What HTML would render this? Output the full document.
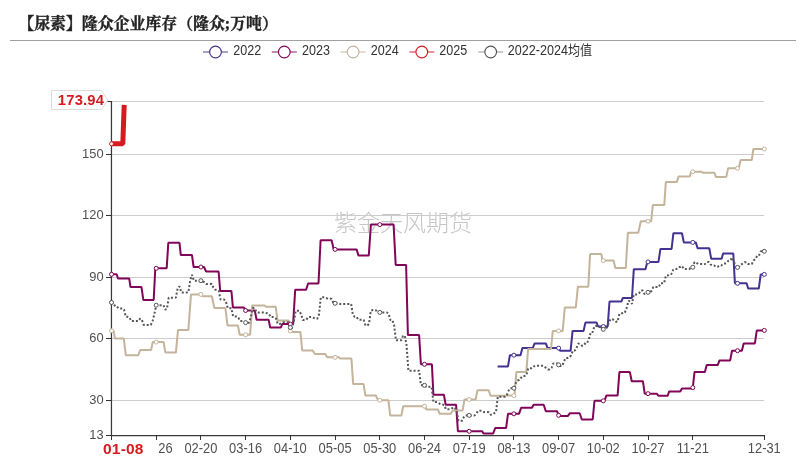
<!DOCTYPE html>
<html lang="zh"><head><meta charset="utf-8"><title>【尿素】隆众企业库存</title>
<style>
html,body{margin:0;padding:0;background:#fff;}
body{width:806px;height:460px;position:relative;overflow:hidden;font-family:"Liberation Sans","Noto Sans CJK SC",sans-serif;}
.title{position:absolute;left:18.3px;top:12.3px;-webkit-text-stroke:0.35px #222;font-family:"Liberation Serif","Noto Serif CJK SC",serif;font-weight:bold;font-size:15.9px;line-height:24px;color:#222;white-space:nowrap;}
</style></head><body>
<div class="title">【尿素】隆众企业库存（隆众;万吨）</div>
<svg width="806" height="460" viewBox="0 0 806 460" style="position:absolute;left:0;top:0"><text x="403" y="231" text-anchor="middle" font-family="'Liberation Sans','Noto Sans CJK SC',sans-serif" font-size="23" font-weight="300" fill="#c6c6c6">紫金天风期货</text><line x1="112" y1="101.5" x2="764" y2="101.5" stroke="#cccccc" stroke-width="1"/><line x1="112" y1="154.5" x2="764" y2="154.5" stroke="#cccccc" stroke-width="1"/><line x1="112" y1="215.5" x2="764" y2="215.5" stroke="#cccccc" stroke-width="1"/><line x1="112" y1="277.5" x2="764" y2="277.5" stroke="#cccccc" stroke-width="1"/><line x1="112" y1="338.5" x2="764" y2="338.5" stroke="#cccccc" stroke-width="1"/><line x1="112" y1="400.5" x2="764" y2="400.5" stroke="#cccccc" stroke-width="1"/><line x1="111.45" y1="101" x2="111.45" y2="436.2" stroke="#383838" stroke-width="1.25"/><line x1="111" y1="435.6" x2="764.8" y2="435.6" stroke="#383838" stroke-width="1.25"/><line x1="106" y1="101.5" x2="112" y2="101.5" stroke="#333" stroke-width="1"/><line x1="106" y1="154.5" x2="112" y2="154.5" stroke="#333" stroke-width="1"/><line x1="106" y1="215.5" x2="112" y2="215.5" stroke="#333" stroke-width="1"/><line x1="106" y1="277.5" x2="112" y2="277.5" stroke="#333" stroke-width="1"/><line x1="106" y1="338.5" x2="112" y2="338.5" stroke="#333" stroke-width="1"/><line x1="106" y1="400.5" x2="112" y2="400.5" stroke="#333" stroke-width="1"/><line x1="106" y1="435.5" x2="112" y2="435.5" stroke="#333" stroke-width="1"/><line x1="111.5" y1="435" x2="111.5" y2="440" stroke="#333" stroke-width="1"/><line x1="156.5" y1="435" x2="156.5" y2="440" stroke="#333" stroke-width="1"/><line x1="200.5" y1="435" x2="200.5" y2="440" stroke="#333" stroke-width="1"/><line x1="245.5" y1="435" x2="245.5" y2="440" stroke="#333" stroke-width="1"/><line x1="290.5" y1="435" x2="290.5" y2="440" stroke="#333" stroke-width="1"/><line x1="335.5" y1="435" x2="335.5" y2="440" stroke="#333" stroke-width="1"/><line x1="379.5" y1="435" x2="379.5" y2="440" stroke="#333" stroke-width="1"/><line x1="424.5" y1="435" x2="424.5" y2="440" stroke="#333" stroke-width="1"/><line x1="469.5" y1="435" x2="469.5" y2="440" stroke="#333" stroke-width="1"/><line x1="513.5" y1="435" x2="513.5" y2="440" stroke="#333" stroke-width="1"/><line x1="558.5" y1="435" x2="558.5" y2="440" stroke="#333" stroke-width="1"/><line x1="603.5" y1="435" x2="603.5" y2="440" stroke="#333" stroke-width="1"/><line x1="648.5" y1="435" x2="648.5" y2="440" stroke="#333" stroke-width="1"/><line x1="692.5" y1="435" x2="692.5" y2="440" stroke="#333" stroke-width="1"/><line x1="764.5" y1="435" x2="764.5" y2="440" stroke="#333" stroke-width="1"/><text transform="translate(103.6 158.3) scale(1 1.04)" text-anchor="end" font-family="'Liberation Sans','Noto Sans CJK SC',sans-serif" font-size="12.9" fill="#505050">150</text><text transform="translate(103.6 219.3) scale(1 1.04)" text-anchor="end" font-family="'Liberation Sans','Noto Sans CJK SC',sans-serif" font-size="12.9" fill="#505050">120</text><text transform="translate(103.6 281.3) scale(1 1.04)" text-anchor="end" font-family="'Liberation Sans','Noto Sans CJK SC',sans-serif" font-size="12.9" fill="#505050">90</text><text transform="translate(103.6 342.3) scale(1 1.04)" text-anchor="end" font-family="'Liberation Sans','Noto Sans CJK SC',sans-serif" font-size="12.9" fill="#505050">60</text><text transform="translate(103.6 404.3) scale(1 1.04)" text-anchor="end" font-family="'Liberation Sans','Noto Sans CJK SC',sans-serif" font-size="12.9" fill="#505050">30</text><text transform="translate(103.6 439.3) scale(1 1.04)" text-anchor="end" font-family="'Liberation Sans','Noto Sans CJK SC',sans-serif" font-size="12.9" fill="#505050">13</text><text transform="translate(172.6 452.6) scale(1 1.09)" text-anchor="end" font-family="'Liberation Sans','Noto Sans CJK SC',sans-serif" font-size="12.9" fill="#505050">26</text><text transform="translate(200.9 452.6) scale(1 1.09)" text-anchor="middle" font-family="'Liberation Sans','Noto Sans CJK SC',sans-serif" font-size="12.9" fill="#505050">02-20</text><text transform="translate(245.6 452.6) scale(1 1.09)" text-anchor="middle" font-family="'Liberation Sans','Noto Sans CJK SC',sans-serif" font-size="12.9" fill="#505050">03-16</text><text transform="translate(290.3 452.6) scale(1 1.09)" text-anchor="middle" font-family="'Liberation Sans','Noto Sans CJK SC',sans-serif" font-size="12.9" fill="#505050">04-10</text><text transform="translate(335.1 452.6) scale(1 1.09)" text-anchor="middle" font-family="'Liberation Sans','Noto Sans CJK SC',sans-serif" font-size="12.9" fill="#505050">05-05</text><text transform="translate(379.8 452.6) scale(1 1.09)" text-anchor="middle" font-family="'Liberation Sans','Noto Sans CJK SC',sans-serif" font-size="12.9" fill="#505050">05-30</text><text transform="translate(424.5 452.6) scale(1 1.09)" text-anchor="middle" font-family="'Liberation Sans','Noto Sans CJK SC',sans-serif" font-size="12.9" fill="#505050">06-24</text><text transform="translate(469.2 452.6) scale(1 1.09)" text-anchor="middle" font-family="'Liberation Sans','Noto Sans CJK SC',sans-serif" font-size="12.9" fill="#505050">07-19</text><text transform="translate(513.9 452.6) scale(1 1.09)" text-anchor="middle" font-family="'Liberation Sans','Noto Sans CJK SC',sans-serif" font-size="12.9" fill="#505050">08-13</text><text transform="translate(558.6 452.6) scale(1 1.09)" text-anchor="middle" font-family="'Liberation Sans','Noto Sans CJK SC',sans-serif" font-size="12.9" fill="#505050">09-07</text><text transform="translate(603.3 452.6) scale(1 1.09)" text-anchor="middle" font-family="'Liberation Sans','Noto Sans CJK SC',sans-serif" font-size="12.9" fill="#505050">10-02</text><text transform="translate(648.0 452.6) scale(1 1.09)" text-anchor="middle" font-family="'Liberation Sans','Noto Sans CJK SC',sans-serif" font-size="12.9" fill="#505050">10-27</text><text transform="translate(692.8 452.6) scale(1 1.09)" text-anchor="middle" font-family="'Liberation Sans','Noto Sans CJK SC',sans-serif" font-size="12.9" fill="#505050">11-21</text><text transform="translate(764.3 452.6) scale(1 1.09)" text-anchor="middle" font-family="'Liberation Sans','Noto Sans CJK SC',sans-serif" font-size="12.9" fill="#505050">12-31</text><text x="123.3" y="454.3" text-anchor="middle" font-family="'Liberation Sans','Noto Sans CJK SC',sans-serif" font-size="15.5" letter-spacing="0.15" font-weight="bold" fill="#d71921">01-08</text><path d="M497.6 366.4L508.0 366.4L509.9 355.2L520.5 355.2L522.4 348.1L532.8 348.1L534.6 343.4L545.8 343.4L547.6 348.1L558.8 348.1L560.1 350.7L570.6 350.7L572.6 330.9L583.6 330.9L585.4 322.6L596.6 322.6L598.1 326.5L607.7 326.5L609.5 301.5L621.5 301.5L622.8 297.9L632.0 297.9L633.8 269.2L645.5 269.2L647.3 261.9L658.5 261.9L660.4 248.9L671.6 248.9L673.4 233.2L682.0 233.2L683.8 242.4L695.8 242.4L697.6 248.3L709.3 248.3L711.2 258.8L721.6 258.8L723.1 253.6L733.3 253.6L734.9 283.3L746.6 283.3L748.2 288.5L758.8 288.5L760.7 274.4L764.1 274.4" fill="none" stroke="#45318f" stroke-width="2" stroke-linejoin="bevel"/><path d="M111.5 274.3L116.7 274.3L118.0 278.5L129.2 278.5L130.5 287.1L141.5 287.1L143.3 299.9L153.7 299.9L155.3 268.3L166.7 268.3L168.3 242.8L179.5 242.8L180.8 255.1L192.0 255.1L193.6 267.0L204.0 267.0L206.1 271.5L218.6 271.5L220.2 291.0L231.4 291.0L232.9 307.4L243.9 307.4L245.7 310.6L254.8 310.6L256.6 319.7L268.6 319.7L270.2 327.5L280.9 327.5L282.2 324.1L293.1 324.1L295.2 289.7L306.1 289.7L308.1 283.5L318.5 283.5L320.6 240.3L331.6 240.3L333.7 249.4L356.6 249.4L358.4 255.4L368.8 255.4L370.9 224.6L393.6 224.6L395.7 265.0L406.1 265.0L407.9 335.1L419.1 335.1L420.9 364.3L431.9 364.3L433.4 394.8L443.9 394.8L445.7 404.7L456.1 404.7L457.9 431.3L482.2 431.3L483.5 433.6L493.1 433.6L495.2 428.1L506.1 428.1L508.0 413.8L519.0 413.8L521.1 407.8L532.0 407.8L533.6 404.7L543.7 404.7L545.8 411.2L557.0 411.2L558.8 415.9L568.0 415.9L569.8 413.3L579.7 413.3L581.8 419.5L592.7 419.5L594.5 400.8L604.4 400.8L606.4 395.6L617.6 395.6L619.4 372.1L629.9 372.1L631.7 381.2L642.9 381.2L644.7 393.7L656.7 393.7L658.5 395.8L667.7 395.8L669.2 391.4L680.2 391.4L682.0 388.5L692.7 388.5L694.5 372.1L704.9 372.1L706.7 365.1L717.7 365.1L719.5 360.4L730.2 360.4L732.0 350.7L741.9 350.7L743.7 343.4L754.9 343.4L756.8 330.4L764.1 330.4" fill="none" stroke="#80065a" stroke-width="2" stroke-linejoin="bevel"/><path d="M111.5 330.7L113.6 330.7L114.9 338.5L123.8 338.5L125.8 355.2L138.3 355.2L140.2 350.0L151.1 350.0L152.7 342.1L163.6 342.1L165.4 352.6L175.9 352.6L178.0 329.9L188.4 329.9L191.0 294.4L201.4 294.4L202.7 296.2L211.8 296.2L214.4 308.0L225.4 308.0L227.5 325.4L237.9 325.4L239.7 334.8L250.1 334.8L252.2 305.6L264.5 305.6L266.0 306.7L275.7 306.7L277.5 320.5L288.7 320.5L290.5 331.9L300.4 331.9L302.2 350.4L312.7 350.4L314.9 354.1L325.3 354.1L327.1 357.3L338.9 357.3L340.2 358.6L351.4 358.6L353.2 384.1L363.6 384.1L365.4 395.6L375.9 395.6L378.0 400.2L388.4 400.2L390.2 415.6L401.4 415.6L403.2 406.2L424.9 406.2L426.2 409.4L437.9 409.4L439.7 413.8L450.9 413.8L452.7 410.4L462.6 410.4L464.5 399.5L475.7 399.5L477.5 390.3L488.7 390.3L490.5 395.8L505.6 395.8L506.1 395.6L514.5 395.6L516.4 372.1L526.3 372.1L528.1 348.9L551.0 348.9L552.8 330.9L562.7 330.9L564.8 307.5L575.8 307.5L577.9 286.7L588.3 286.7L590.1 254.1L601.3 254.1L602.6 260.6L613.5 260.6L615.4 267.9L625.8 267.9L627.9 232.7L638.3 232.7L640.8 221.2L651.2 221.2L652.8 205.0L664.3 205.0L665.8 182.1L676.8 182.1L678.6 176.4L689.8 176.4L691.1 171.7L701.5 171.7L702.8 172.7L714.5 172.7L715.9 176.9L726.3 176.9L728.1 168.3L738.8 168.3L740.6 160.0L751.8 160.0L753.4 149.0L764.1 149.0" fill="none" stroke="#c4b49b" stroke-width="2" stroke-linejoin="bevel"/><path d="M111.5 143.8L122.8 143.8L124.2 104.9" fill="none" stroke="#d71921" stroke-width="5" stroke-linejoin="bevel"/><path d="M111.5 302.5L113.3 302.5L115.1 306.4L116.9 306.6L118.7 308.5L120.4 308.5L122.2 308.5L124.0 309.5L125.8 316.7L127.6 316.8L129.4 317.4L131.2 321.1L133.0 321.1L134.8 321.1L136.5 321.1L138.3 321.1L140.1 318.6L141.9 320.0L143.7 324.9L145.5 324.9L147.3 324.9L149.1 324.9L150.8 324.9L152.6 321.1L154.4 313.9L156.2 305.2L158.0 305.2L159.8 305.2L161.6 305.2L163.4 305.2L165.2 309.6L166.9 308.9L168.7 297.7L170.5 297.7L172.3 297.7L174.1 297.7L175.9 297.6L177.7 287.9L179.5 286.4L181.3 292.5L183.0 292.5L184.8 292.5L186.6 292.5L188.4 292.3L190.2 280.1L192.0 274.7L193.8 280.7L195.6 280.7L197.3 280.7L199.1 280.7L200.9 280.7L202.7 281.6L204.5 282.2L206.3 283.9L208.1 283.9L209.9 283.9L211.7 283.9L213.4 287.5L215.2 289.7L217.0 289.7L218.8 291.0L220.6 299.5L222.4 299.5L224.2 299.5L226.0 302.0L227.8 308.2L229.5 308.2L231.3 308.2L233.1 316.4L234.9 316.4L236.7 316.4L238.5 318.0L240.3 321.1L242.1 321.1L243.8 321.1L245.6 322.6L247.4 322.7L249.2 322.7L251.0 316.5L252.8 308.1L254.6 308.1L256.4 312.0L258.2 312.6L259.9 312.6L261.7 312.6L263.5 312.6L265.3 312.9L267.1 313.2L268.9 313.8L270.7 317.1L272.5 317.1L274.3 317.1L276.0 318.5L277.8 324.0L279.6 324.0L281.4 323.3L283.2 322.3L285.0 322.3L286.8 322.3L288.6 322.3L290.3 327.5L292.1 328.0L293.9 321.3L295.7 310.8L297.5 310.8L299.3 310.8L301.1 314.2L302.9 320.1L304.7 320.1L306.4 319.6L308.2 317.0L310.0 317.0L311.8 317.0L313.6 317.8L315.4 318.8L317.2 318.8L319.0 314.5L320.8 297.2L322.5 297.2L324.3 297.2L326.1 297.9L327.9 298.8L329.7 298.8L331.5 298.8L333.3 302.5L335.1 303.3L336.9 303.3L338.6 303.3L340.4 304.0L342.2 304.0L344.0 304.0L345.8 304.0L347.6 304.0L349.4 304.0L351.2 304.0L352.9 315.0L354.7 316.7L356.5 316.7L358.3 319.6L360.1 319.7L361.9 319.7L363.7 319.9L365.5 325.5L367.3 325.5L369.0 323.9L370.8 310.7L372.6 310.1L374.4 310.1L376.2 310.5L378.0 312.4L379.8 312.4L381.6 312.4L383.4 312.4L385.1 312.4L386.9 312.4L388.7 313.9L390.5 320.1L392.3 320.1L394.1 324.9L395.9 340.3L397.7 340.3L399.4 340.3L401.2 340.3L403.0 336.2L404.8 335.6L406.6 345.4L408.4 370.7L410.2 370.7L412.0 370.7L413.8 370.7L415.5 370.7L417.3 370.7L419.1 370.7L420.9 385.0L422.7 385.3L424.5 385.3L426.3 386.8L428.1 386.8L429.9 386.8L431.6 386.8L433.4 401.9L435.2 402.1L437.0 402.1L438.8 403.2L440.6 404.3L442.4 404.3L444.2 405.1L445.9 409.2L447.7 409.2L449.5 409.2L451.3 408.9L453.1 407.5L454.9 407.5L456.7 411.6L458.5 420.8L460.3 420.8L462.0 420.8L463.8 417.2L465.6 415.4L467.4 415.4L469.2 415.4L471.0 415.4L472.8 415.4L474.6 415.4L476.4 413.6L478.1 410.8L479.9 410.8L481.7 410.8L483.5 412.0L485.3 412.0L487.1 412.0L488.9 412.3L490.7 414.7L492.4 414.7L494.2 413.2L496.0 412.0L497.8 396.8L499.6 396.8L501.4 396.8L503.2 396.8L505.0 396.8L506.8 395.1L508.5 390.8L510.3 388.2L512.1 388.2L513.9 388.2L515.7 383.2L517.5 380.4L519.3 380.1L521.1 377.7L522.9 376.0L524.6 376.0L526.4 375.3L528.2 368.3L530.0 368.3L531.8 368.3L533.6 366.6L535.4 365.7L537.2 365.7L538.9 365.7L540.7 365.7L542.5 365.7L544.3 366.3L546.1 368.1L547.9 369.4L549.7 369.4L551.5 367.9L553.3 363.4L555.0 363.4L556.8 363.4L558.6 364.8L560.4 365.9L562.2 365.9L564.0 361.2L565.8 358.0L567.6 358.0L569.4 357.4L571.1 355.3L572.9 350.6L574.7 350.6L576.5 348.1L578.3 343.6L580.1 344.0L581.9 345.7L583.7 345.6L585.5 342.9L587.2 342.9L589.0 338.5L590.8 332.1L592.6 332.1L594.4 326.3L596.2 325.8L598.0 327.0L599.8 327.1L601.5 327.5L603.3 329.3L605.1 328.7L606.9 327.6L608.7 323.1L610.5 319.2L612.3 319.2L614.1 319.9L615.9 321.7L617.6 321.6L619.4 313.9L621.2 313.8L623.0 312.6L624.8 312.6L626.6 308.2L628.4 300.9L630.2 301.4L632.0 303.9L633.7 294.6L635.5 294.4L637.3 294.4L639.1 293.1L640.9 290.5L642.7 290.5L644.5 294.1L646.3 293.7L648.0 292.3L649.8 292.3L651.6 290.9L653.4 286.9L655.2 286.9L657.0 287.0L658.8 287.0L660.6 283.2L662.4 283.2L664.1 283.2L665.9 275.6L667.7 275.5L669.5 274.1L671.3 274.1L673.1 269.8L674.9 268.9L676.7 268.9L678.5 267.1L680.2 267.0L682.0 266.1L683.8 269.1L685.6 269.1L687.4 269.1L689.2 269.1L691.0 267.7L692.8 267.2L694.5 262.1L696.3 262.7L698.1 264.0L699.9 264.0L701.7 264.1L703.5 264.4L705.3 263.9L707.1 262.1L708.9 262.1L710.6 264.5L712.4 265.5L714.2 265.5L716.0 266.9L717.8 266.8L719.6 265.4L721.4 265.4L723.2 263.6L725.0 263.6L726.7 262.9L728.5 260.7L730.3 260.5L732.1 257.5L733.9 261.3L735.7 267.4L737.5 267.4L739.3 266.7L741.0 264.7L742.8 263.4L744.6 262.2L746.4 262.2L748.2 264.0L750.0 264.0L751.8 264.0L753.6 260.3L755.4 259.3L757.1 256.0L758.9 255.7L760.7 251.3L762.5 251.3L764.3 251.3" fill="none" stroke="#555555" stroke-width="2" stroke-dasharray="2 2" stroke-linejoin="bevel"/><circle cx="513.9" cy="355.2" r="2" fill="#fff" stroke="#45318f" stroke-width="1"/><circle cx="558.6" cy="348.1" r="2" fill="#fff" stroke="#45318f" stroke-width="1"/><circle cx="603.3" cy="326.5" r="2" fill="#fff" stroke="#45318f" stroke-width="1"/><circle cx="648.0" cy="261.9" r="2" fill="#fff" stroke="#45318f" stroke-width="1"/><circle cx="692.8" cy="242.4" r="2" fill="#fff" stroke="#45318f" stroke-width="1"/><circle cx="737.5" cy="283.3" r="2" fill="#fff" stroke="#45318f" stroke-width="1"/><circle cx="764.3" cy="274.4" r="2" fill="#fff" stroke="#45318f" stroke-width="1"/><circle cx="111.5" cy="274.3" r="2" fill="#fff" stroke="#80065a" stroke-width="1"/><circle cx="156.2" cy="268.3" r="2" fill="#fff" stroke="#80065a" stroke-width="1"/><circle cx="200.9" cy="267.0" r="2" fill="#fff" stroke="#80065a" stroke-width="1"/><circle cx="245.6" cy="310.5" r="2" fill="#fff" stroke="#80065a" stroke-width="1"/><circle cx="290.3" cy="324.1" r="2" fill="#fff" stroke="#80065a" stroke-width="1"/><circle cx="335.1" cy="249.4" r="2" fill="#fff" stroke="#80065a" stroke-width="1"/><circle cx="379.8" cy="224.6" r="2" fill="#fff" stroke="#80065a" stroke-width="1"/><circle cx="424.5" cy="364.3" r="2" fill="#fff" stroke="#80065a" stroke-width="1"/><circle cx="469.2" cy="431.3" r="2" fill="#fff" stroke="#80065a" stroke-width="1"/><circle cx="513.9" cy="413.8" r="2" fill="#fff" stroke="#80065a" stroke-width="1"/><circle cx="558.6" cy="415.3" r="2" fill="#fff" stroke="#80065a" stroke-width="1"/><circle cx="603.3" cy="400.8" r="2" fill="#fff" stroke="#80065a" stroke-width="1"/><circle cx="648.0" cy="393.7" r="2" fill="#fff" stroke="#80065a" stroke-width="1"/><circle cx="692.8" cy="387.6" r="2" fill="#fff" stroke="#80065a" stroke-width="1"/><circle cx="737.5" cy="350.7" r="2" fill="#fff" stroke="#80065a" stroke-width="1"/><circle cx="764.3" cy="330.4" r="2" fill="#fff" stroke="#80065a" stroke-width="1"/><circle cx="111.5" cy="330.7" r="2" fill="#fff" stroke="#c4b49b" stroke-width="1"/><circle cx="156.2" cy="342.1" r="2" fill="#fff" stroke="#c4b49b" stroke-width="1"/><circle cx="200.9" cy="294.4" r="2" fill="#fff" stroke="#c4b49b" stroke-width="1"/><circle cx="245.6" cy="334.8" r="2" fill="#fff" stroke="#c4b49b" stroke-width="1"/><circle cx="290.3" cy="330.9" r="2" fill="#fff" stroke="#c4b49b" stroke-width="1"/><circle cx="335.1" cy="357.3" r="2" fill="#fff" stroke="#c4b49b" stroke-width="1"/><circle cx="379.8" cy="400.2" r="2" fill="#fff" stroke="#c4b49b" stroke-width="1"/><circle cx="424.5" cy="406.2" r="2" fill="#fff" stroke="#c4b49b" stroke-width="1"/><circle cx="469.2" cy="399.5" r="2" fill="#fff" stroke="#c4b49b" stroke-width="1"/><circle cx="513.9" cy="395.6" r="2" fill="#fff" stroke="#c4b49b" stroke-width="1"/><circle cx="558.6" cy="330.9" r="2" fill="#fff" stroke="#c4b49b" stroke-width="1"/><circle cx="603.3" cy="260.6" r="2" fill="#fff" stroke="#c4b49b" stroke-width="1"/><circle cx="648.0" cy="221.2" r="2" fill="#fff" stroke="#c4b49b" stroke-width="1"/><circle cx="692.8" cy="171.7" r="2" fill="#fff" stroke="#c4b49b" stroke-width="1"/><circle cx="737.5" cy="168.3" r="2" fill="#fff" stroke="#c4b49b" stroke-width="1"/><circle cx="764.3" cy="149.0" r="2" fill="#fff" stroke="#c4b49b" stroke-width="1"/><circle cx="111.5" cy="143.8" r="2" fill="#fff" stroke="#d71921" stroke-width="1"/><circle cx="111.5" cy="302.5" r="2" fill="#fff" stroke="#555555" stroke-width="1"/><circle cx="156.2" cy="305.2" r="2" fill="#fff" stroke="#555555" stroke-width="1"/><circle cx="200.9" cy="280.7" r="2" fill="#fff" stroke="#555555" stroke-width="1"/><circle cx="245.6" cy="322.6" r="2" fill="#fff" stroke="#555555" stroke-width="1"/><circle cx="290.3" cy="327.5" r="2" fill="#fff" stroke="#555555" stroke-width="1"/><circle cx="335.1" cy="303.3" r="2" fill="#fff" stroke="#555555" stroke-width="1"/><circle cx="379.8" cy="312.4" r="2" fill="#fff" stroke="#555555" stroke-width="1"/><circle cx="424.5" cy="385.3" r="2" fill="#fff" stroke="#555555" stroke-width="1"/><circle cx="469.2" cy="415.4" r="2" fill="#fff" stroke="#555555" stroke-width="1"/><circle cx="513.9" cy="388.2" r="2" fill="#fff" stroke="#555555" stroke-width="1"/><circle cx="558.6" cy="364.8" r="2" fill="#fff" stroke="#555555" stroke-width="1"/><circle cx="603.3" cy="329.3" r="2" fill="#fff" stroke="#555555" stroke-width="1"/><circle cx="648.0" cy="292.3" r="2" fill="#fff" stroke="#555555" stroke-width="1"/><circle cx="692.8" cy="267.2" r="2" fill="#fff" stroke="#555555" stroke-width="1"/><circle cx="737.5" cy="267.4" r="2" fill="#fff" stroke="#555555" stroke-width="1"/><circle cx="764.3" cy="251.3" r="2" fill="#fff" stroke="#555555" stroke-width="1"/><path d="M51.5 90.5H101.5L108 100L101.5 109.5H51.5Z" fill="#fff" stroke="#dcdcdc" stroke-width="1"/><text transform="translate(104.2 105.3) scale(1 1.04)" text-anchor="end" font-family="'Liberation Sans','Noto Sans CJK SC',sans-serif" font-size="14.8" letter-spacing="0.2" font-weight="bold" fill="#d71921">173.94</text><line x1="10" y1="40.5" x2="796" y2="40.5" stroke="#a0a0a0" stroke-width="1"/><line x1="203.0" y1="52" x2="228.0" y2="52" stroke="#45318f" stroke-width="1.1" stroke-opacity="0.85"/><circle cx="215.5" cy="52" r="5.85" fill="#fff" stroke="#45318f" stroke-width="1.15"/><text transform="translate(233.2 55.3) scale(1 1.12)" font-family="'Liberation Sans','Noto Sans CJK SC',sans-serif" font-size="12.6" fill="#333">2022</text><line x1="271.8" y1="52" x2="296.8" y2="52" stroke="#80065a" stroke-width="1.1" stroke-opacity="0.85"/><circle cx="284.3" cy="52" r="5.85" fill="#fff" stroke="#80065a" stroke-width="1.15"/><text transform="translate(302.0 55.3) scale(1 1.12)" font-family="'Liberation Sans','Noto Sans CJK SC',sans-serif" font-size="12.6" fill="#333">2023</text><line x1="340.6" y1="52" x2="365.6" y2="52" stroke="#c4b49b" stroke-width="1.1" stroke-opacity="0.85"/><circle cx="353.1" cy="52" r="5.85" fill="#fff" stroke="#c4b49b" stroke-width="1.15"/><text transform="translate(370.7 55.3) scale(1 1.12)" font-family="'Liberation Sans','Noto Sans CJK SC',sans-serif" font-size="12.6" fill="#333">2024</text><line x1="409.3" y1="52" x2="434.3" y2="52" stroke="#d71921" stroke-width="1.1" stroke-opacity="0.85"/><circle cx="421.8" cy="52" r="5.85" fill="#fff" stroke="#d71921" stroke-width="1.15"/><text transform="translate(439.2 55.3) scale(1 1.12)" font-family="'Liberation Sans','Noto Sans CJK SC',sans-serif" font-size="12.6" fill="#333">2025</text><line x1="478.2" y1="52" x2="503.2" y2="52" stroke="#8c8c8c" stroke-width="1.1" stroke-opacity="0.85"/><circle cx="490.7" cy="52" r="5.85" fill="#fff" stroke="#555555" stroke-width="1.15"/><text transform="translate(507.7 55.3) scale(1 1.12)" font-family="'Liberation Sans','Noto Sans CJK SC',sans-serif" font-size="12.6" fill="#333">2022-2024<tspan font-size="12.1">均值</tspan></text></svg>
</body></html>
